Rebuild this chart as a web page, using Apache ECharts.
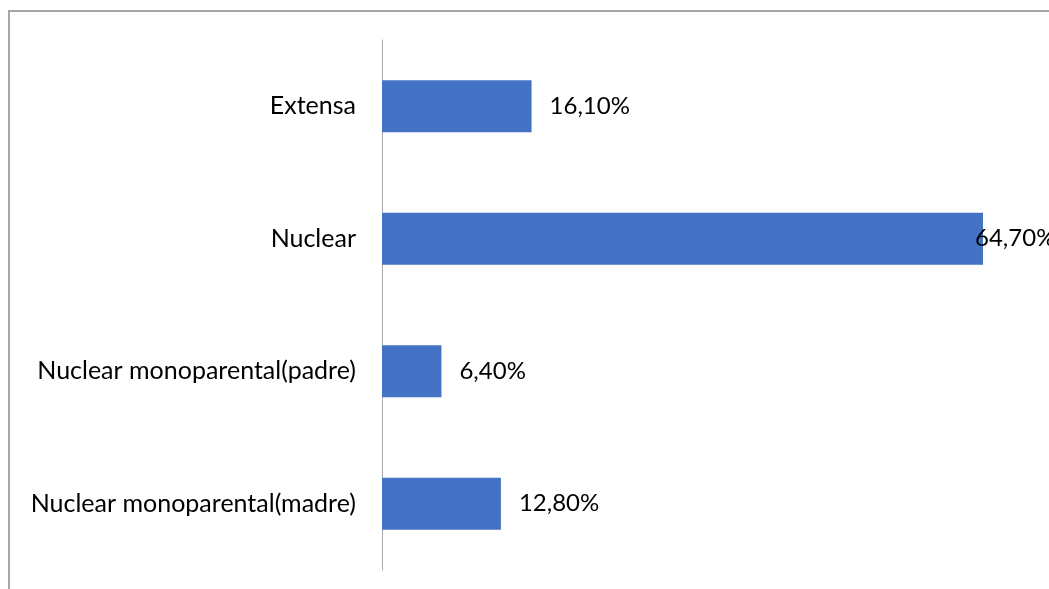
<!DOCTYPE html>
<html>
<head>
<meta charset="utf-8">
<script src="https://cdn.jsdelivr.net/npm/echarts@6/dist/echarts.min.js"></script>
<style>
    html, body {margin: 0; padding: 0; background: #fff; overflow: hidden}
    #frame {position: absolute; left: 8px; top: 10px; width: 1100px; height: 640px; border: 2px solid #a6a6a6; box-sizing: border-box}
    #chart {position: absolute; left: 0; top: 0; width: 1049px; height: 589px}
</style>
</head>
<body>
<div id="frame"></div>
<div id="chart"></div>
<script>
    // categories top to bottom
    const categories = ['Extensa', 'Nuclear', 'Nuclear monoparental(padre)', 'Nuclear monoparental(madre)']
    // percentages
    const values = [16.1, 64.7, 6.4, 12.8]

    const fmt = v => v.toFixed(2).replace('.', ',') + '%'

    let seriesData = values.map((v, i) => {
        // the biggest bar's label sits a bit over the bar end, like in the original
        if (v === Math.max(...values)) {
            return {value: v, label: {distance: -8}}
        }
        return v
    })

    const myChart = echarts.init(document.getElementById('chart'))
    myChart.setOption({
        animation: false,
        grid: {
            left: 382,
            right: 66,
            top: 40,
            bottom: 19
        },
        xAxis: {
            type: 'value',
            min: 0,
            max: 64.7,
            show: false
        },
        yAxis: {
            type: 'category',
            data: categories,
            inverse: true,
            axisLine: {show: true, lineStyle: {color: '#a6a6a6', width: 1}},
            axisTick: {show: false},
            axisLabel: {
                color: '#000',
                fontSize: 25,
                fontFamily: 'Lato',
                margin: 26
            }
        },
        series: [{
            type: 'bar',
            barWidth: 52,
            itemStyle: {color: '#4472C4'},
            label: {
                show: true,
                position: 'right',
                distance: 18,
                color: '#000',
                fontSize: 24,
                fontFamily: 'Lato',
                formatter: p => fmt(p.value)
            },
            data: seriesData
        }]
    })
</script>
</body>
</html>
